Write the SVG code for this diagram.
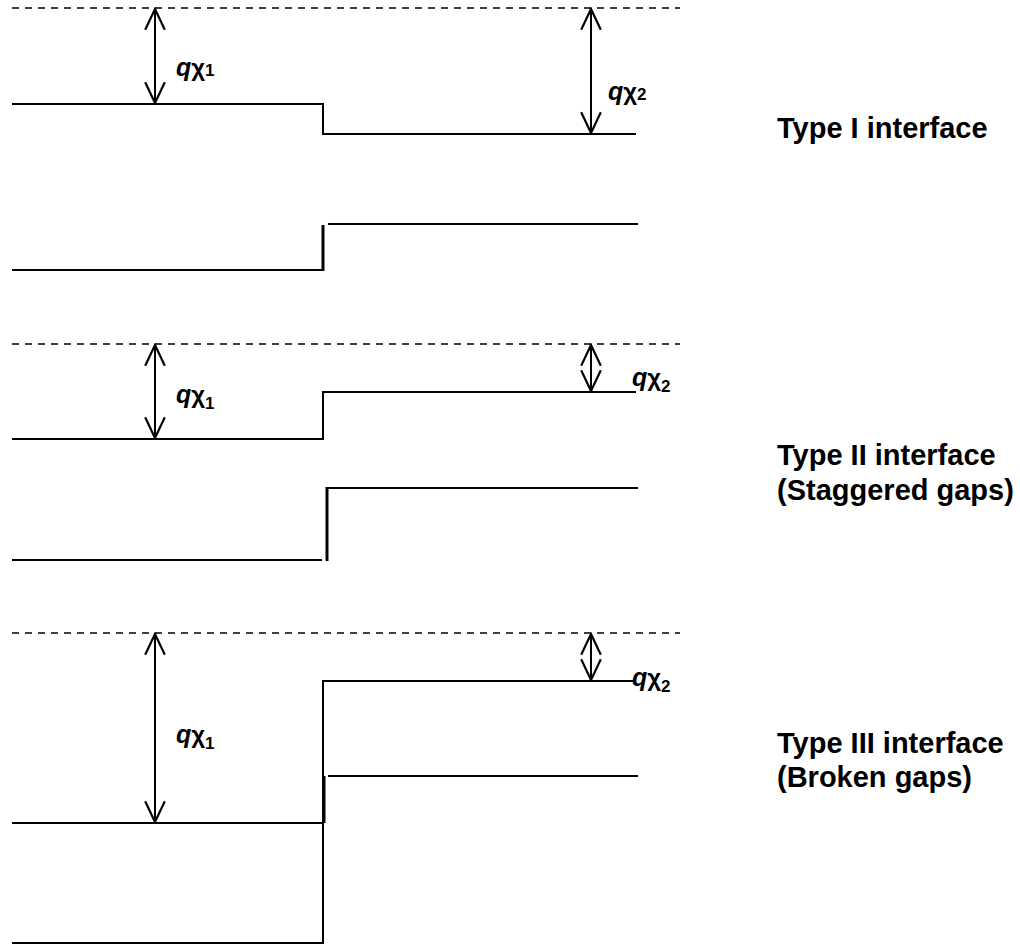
<svg xmlns="http://www.w3.org/2000/svg" width="1020" height="945" viewBox="0 0 1020 945">
<style>
.ln{stroke:#000;stroke-width:2;fill:none}
.thk{stroke:#000;stroke-width:3;fill:none}
.dash{stroke:#000;stroke-width:1.5;stroke-dasharray:7,6;fill:none}
.arr{stroke:#000;stroke-width:2;fill:none}
.lbl{font-family:"Liberation Sans",Arial,sans-serif;font-weight:bold;font-size:29px;fill:#000}
.q{font-family:"Liberation Sans",Arial,sans-serif;font-weight:bold;font-style:italic;font-size:25px;fill:#000}
.chi{font-family:"Liberation Sans",Arial,sans-serif;font-style:normal;font-weight:bold;font-size:24px}
.sub{font-family:"Liberation Sans",Arial,sans-serif;font-style:normal;font-weight:bold;font-size:17px}
</style>
<defs>
<marker id="ah" markerWidth="24" markerHeight="24" refX="20" refY="10" orient="auto-start-reverse" markerUnits="userSpaceOnUse" viewBox="0 0 22 20">
<path d="M1,1 L20,10 L1,19" stroke="#000" stroke-width="2" fill="none"/>
</marker>
</defs>
<g id="type1">
<line class="dash" x1="12" y1="8" x2="680" y2="8"/>
<polyline class="ln" points="12,104 323,104 323,134 636,134"/>
<polyline class="ln" points="12,270 323,270"/>
<polyline class="thk" points="323,271 323,225"/>
<polyline class="ln" points="328,224 638,224"/>
<text class="q" x="176" y="76">q<tspan class="chi">χ</tspan><tspan class="sub">1</tspan></text>
<text class="q" x="608" y="100">q<tspan class="chi">χ</tspan><tspan class="sub">2</tspan></text>
<text class="lbl" x="777" y="138">Type I interface</text>
</g>
<g id="type2">
<line class="dash" x1="12" y1="344" x2="680" y2="344"/>
<polyline class="ln" points="12,439 323,439 323,392 636,392"/>
<polyline class="ln" points="12,560 322,560"/>
<polyline class="thk" points="327,561 327,487"/>
<polyline class="ln" points="328,488 638,488"/>
<text class="q" x="176" y="403">q<tspan class="chi">χ</tspan><tspan class="sub" dy="6">1</tspan></text>
<text class="q" x="632" y="386">q<tspan class="chi">χ</tspan><tspan class="sub" dy="6">2</tspan></text>
<text class="lbl" x="777" y="465">Type II interface</text>
<text class="lbl" x="777" y="500">(Staggered gaps)</text>
</g>
<g id="type3">
<line class="dash" x1="12" y1="633" x2="680" y2="633"/>
<polyline class="ln" points="323,823 323,681 636,681"/>
<polyline class="ln" points="12,823 323,823"/>
<polyline class="ln" points="328,776 638,776"/>
<polyline class="thk" points="324,776 324,823"/>
<polyline class="ln" points="323,823 323,943 12,943"/>
<text class="q" x="176" y="743">q<tspan class="chi">χ</tspan><tspan class="sub" dy="6">1</tspan></text>
<text class="q" x="632" y="686">q<tspan class="chi">χ</tspan><tspan class="sub" dy="6">2</tspan></text>
<text class="lbl" x="777" y="753">Type III interface</text>
<text class="lbl" x="777" y="787">(Broken gaps)</text>
</g>
<g id="connectors">
<line class="arr" x1="155" y1="9" x2="155" y2="103" marker-start="url(#ah)" marker-end="url(#ah)"/>
<line class="arr" x1="591" y1="9" x2="591" y2="133" marker-start="url(#ah)" marker-end="url(#ah)"/>
<line class="arr" x1="155" y1="345" x2="155" y2="438" marker-start="url(#ah)" marker-end="url(#ah)"/>
<line class="arr" x1="591" y1="345" x2="591" y2="391" marker-start="url(#ah)" marker-end="url(#ah)"/>
<line class="arr" x1="155" y1="634" x2="155" y2="822" marker-start="url(#ah)" marker-end="url(#ah)"/>
<line class="arr" x1="591" y1="634" x2="591" y2="680" marker-start="url(#ah)" marker-end="url(#ah)"/>
</g>
</svg>
